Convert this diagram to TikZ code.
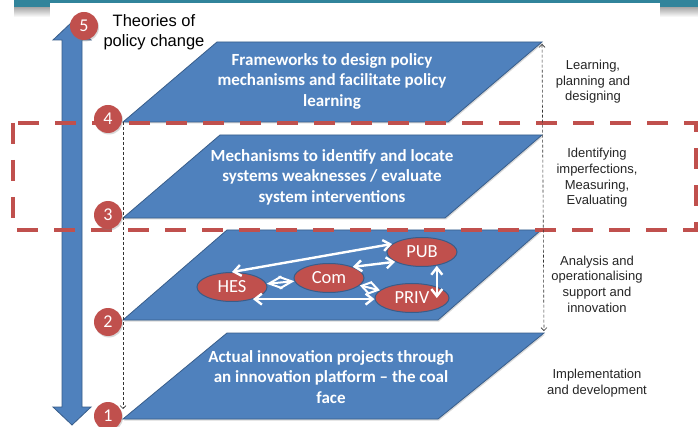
\documentclass[tikz,border=0pt]{standalone}
\usepackage{fontspec}
\setmainfont{Carlito}
\newfontfamily\arialfont{Liberation Sans}
\usetikzlibrary{arrows.meta,shapes.geometric,shadows}
\definecolor{layerblue}{HTML}{4F81BD}
\definecolor{layeredge}{HTML}{385D8A}
\definecolor{actorred}{HTML}{C0504D}
\definecolor{actoredge}{HTML}{8C3836}
\definecolor{barteal}{HTML}{31849B}

\begin{document}
\begin{tikzpicture}[
    x=1pt, y=-1pt,
    % Styles
    layerbox/.style={fill=layerblue, draw=layeredge, line width=0.8pt, drop shadow={opacity=0.3, shadow xshift=1pt, shadow yshift=-1.5pt}},
    layertext/.style={text=white, font=\fontsize{17}{20.5}\selectfont\bfseries, align=center},
    stage/.style={circle, fill=actorred, minimum size=28pt, inner sep=0pt, text=white, font=\fontsize{18}{20}\selectfont, drop shadow={opacity=0.3, shadow xshift=1pt, shadow yshift=-1.5pt}},
    actor/.style={ellipse, fill=actorred, draw=layeredge, line width=1pt, minimum width=70pt, minimum height=29pt, inner sep=0pt, text=white, font=\fontsize{18.5}{20}\selectfont},
    link/.style={{Straight Barb[length=7pt,width=11pt]}-{Straight Barb[length=7pt,width=11pt]}, white, line width=2.4pt},
    tightlink/.style={{Straight Barb[length=#1,width=12pt]}-{Straight Barb[length=#1,width=12pt]}, white, line width=2pt},
    guide/.style={densely dashed, black!80, line width=0.6pt},
    note/.style={font=\arialfont\fontsize{13}{15.6}\selectfont, text=black!85, align=center},
    focus/.style={draw=actorred, line width=4.5pt, dash pattern=on 21pt off 16pt},
]
\useasboundingbox (0,0) rectangle (698,427);
\fill[white] (0,0) rectangle (698,427);

% Top bar
\shade[top color=black!35, bottom color=white] (14,7) rectangle (698,17);
\fill[barteal] (14,0) rectangle (698,7);
\fill[white] (50,3) rectangle (660,427);

% Theories of policy change arrow
\draw[fill=layerblue, draw=layeredge, line width=0.8pt] (72,22) -- (91,40) -- (82,40) -- (82,407) -- (91,407) -- (72,425) -- (53,407) -- (62,407) -- (62,40) -- (53,40) -- cycle;

% Layers
\draw[layerbox] (123,122) coordinate (l1bl) -- (217,42) -- (542,42) coordinate (l1tr) -- (448,122) -- cycle;
\node[layertext] (frame) at (332,81) {Frameworks to design policy\\mechanisms and facilitate policy\\learning};

\draw[layerbox] (123,218) -- (220,135) -- (542,135) -- (445,218) -- cycle;
\node[layertext] (mech) at (332,177) {Mechanisms to identify and locate\\systems weaknesses / evaluate\\system interventions};

\draw[layerbox] (123,320) -- (227,230) -- (541,230) -- (438,320) -- cycle;

\draw[layerbox] (123,419) coordinate (l4bl) -- (227,333) -- (544,333) coordinate (l4tr) -- (438,419) -- cycle;
\node[layertext] (actual) at (331,377) {Actual innovation projects through\\an innovation platform -- the coal\\face};

% Actors on the platform
\node[actor] (hes) at (232,287) {HES};
\node[actor] (com) at (329,278) {Com};
\node[actor] (pub) at (422,252) {PUB};
\node[actor, minimum width=74pt] (priv) at (412,298) {PRIV};

\draw[link] (hes.north) -- (pub.165);
\draw[link] (hes.-30) -- (hes.-30 -| priv.west);
\draw[link] (com.25) -- (pub.200);
\draw[link] ([xshift=1pt]pub.-45) -- ([xshift=1pt]pub.-45 |- priv.east);
\draw[tightlink=13pt] (hes) -- (com);
\draw[tightlink=9pt] (com) -- (priv);

% Focus box
\draw[focus] (13,123) rectangle (696,230);

% Guides
\draw[guide, -{Straight Barb[length=3pt,width=6pt]}, shorten >=10pt] (l1bl) -- (l4bl);
\draw[guide, {Straight Barb[length=3pt,width=6pt]}-{Straight Barb[length=3pt,width=6pt]}, shorten <=2pt, shorten >=2pt] (l1tr) -- (l4tr);

% Stages
\node[stage] (s5) at (84,26) {5};
\node[stage] (s4) at (108,119) {4};
\node[stage] (s3) at (108,215) {3};
\node[stage] (s2) at (108,322) {2};
\node[stage] (s1) at (108,416) {1};

\node[font=\arialfont\fontsize{16.5}{19.5}\selectfont, align=center] (theory) at (154,32) {Theories of\\policy change};

% Notes
\node[note] (learn) at (593,82) {Learning,\\planning and\\designing};
\node[note] (ident) at (597,178) {Identifying\\imperfections,\\Measuring,\\Evaluating};
\node[note] (anal) at (597,284) {Analysis and\\operationalising\\support and\\innovation};
\node[note] (impl) at (597,383) {Implementation\\and development};

\end{tikzpicture}
\end{document}
